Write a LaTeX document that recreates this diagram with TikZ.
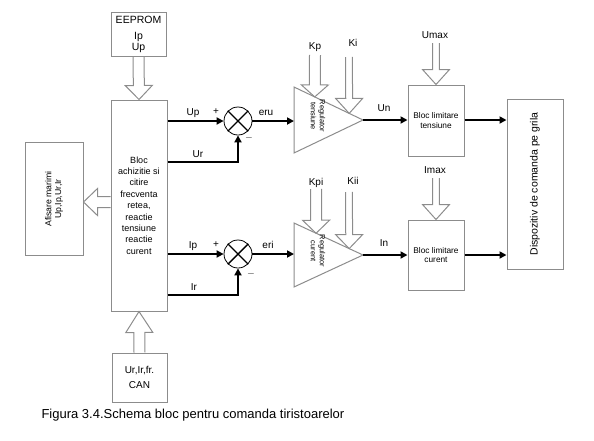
\documentclass[tikz,border=0pt]{standalone}
\usepackage{fontspec}
\setmainfont{Liberation Sans}
\usetikzlibrary{arrows.meta,calc}

% hollow block arrow: #1 half shaft width, #2 head length, from #3 to tip #4
\newcommand{\bigarrow}[4]{%
	\coordinate (ba) at (#3);
	\coordinate (bt) at (#4);
	\coordinate (bb) at ($(bt)!#2!(ba)$);
	\draw [hollow] ($(ba)!#1!90:(bb)$) -- ($(bb)!#1!-90:(ba)$) -- ($(bb)!13.5pt!-90:(ba)$) -- (bt)
		-- ($(bb)!13.5pt!90:(ba)$) -- ($(bb)!#1!90:(ba)$) -- ($(ba)!#1!-90:(bb)$);
}

\begin{document}
\begin{tikzpicture}[x=1pt, y=-1pt,
		box/.style={draw=black!45, line width=1pt, inner sep=1pt, align=center},
		hollow/.style={draw=black!45, line width=1pt},
		sig/.style={line width=2pt, -{Triangle[length=7pt,width=7pt]}},
		lbl/.style={font=\fontsize{10}{12}\selectfont}]
	\useasboundingbox (0,0) rectangle (594,440);

	% blocks
	\node [box, minimum width=55, minimum height=44, font=\fontsize{10.5}{11}\selectfont] (eeprom) at (138.5,34) {EEPROM\\[5pt]Ip\\Up};
	\node [box, minimum width=56, minimum height=211, font=\fontsize{9}{11.4}\selectfont] (acq) at (139,205.5)
		{Bloc\\achizitie si\\citire\\frecventa\\retea,\\reactie\\tensiune\\reactie\\curent};
	\node [box, minimum width=113, minimum height=58, rotate=90, font=\fontsize{8.7}{9.7}\selectfont] (disp) at (54,199)
		{Afisare marimi\\Up,Ip,Ur,Ir};
	\node [box, minimum width=55, minimum height=49, font=\fontsize{10}{15}\selectfont] (can) at (139.5,377.5) {Ur,Ir,fr.\\CAN};
	\node [box, minimum width=56, minimum height=71, font=\fontsize{8.3}{9.5}\selectfont] (lim1) at (436,120.5) {Bloc limitare\\tensiune};
	\node [box, minimum width=56, minimum height=70, font=\fontsize{8.3}{9.5}\selectfont] (lim2) at (436,255) {Bloc limitare\\curent};
	\node [box, minimum width=170, minimum height=56, rotate=90, font=\fontsize{10.5}{12}\selectfont] (cmd) at (535,184)
		{Dispozitiv de comanda pe grila};

	% regulators
	\coordinate (ta) at (294,87);
	\coordinate (tb) at (294,153);
	\coordinate (tc) at (363,120);
	\draw [hollow] (ta) -- (tc) -- (tb) -- cycle;
	\node [rotate=-90, align=center, font=\fontsize{7.4}{9}\selectfont] (regu) at (318,116) {Regulator\\tensiune};
	\coordinate (tia) at (294,223);
	\coordinate (tib) at (294,287);
	\coordinate (tic) at (363,255);
	\draw [hollow] (tia) -- (tic) -- (tib) -- cycle;
	\node [rotate=-90, align=center, font=\fontsize{7.4}{9}\selectfont] (regi) at (318,251) {Regulator\\curent};

	% summing points
	\node [draw, circle, minimum size=28, inner sep=0pt, line width=0.8pt] (sum1) at (238,121) {};
	\node [draw, circle, minimum size=28, inner sep=0pt, line width=0.8pt] (sum2) at (238,254) {};
	\draw [line width=1.4pt] (sum1.north west) -- (sum1.south east) (sum1.north east) -- (sum1.south west);
	\draw [line width=1.4pt] (sum2.north west) -- (sum2.south east) (sum2.north east) -- (sum2.south west);

	% hollow arrows
	\bigarrow{5.5pt}{14pt}{eeprom.south}{acq.north}
	\bigarrow{5.5pt}{21pt}{can.north}{acq.south}
	\coordinate (dispin) at ($(disp.south)+(0,3)$);
	\bigarrow{5.5pt}{14pt}{acq.west |- dispin}{dispin}
	\coordinate (kp) at (315,55);
	\coordinate (ki) at (349,57);
	\coordinate (kpi) at (316,189);
	\coordinate (kii) at (349,192);
	\coordinate (umax) at (436,43);
	\coordinate (imax) at (436,178);
	\bigarrow{5.5pt}{12pt}{kp}{$(ta)!0.3!(tc)$}
	\bigarrow{3.4pt}{15pt}{ki}{$(ta)!0.8!(tc)$}
	\bigarrow{5.5pt}{13pt}{kpi}{$(tia)!0.32!(tic)$}
	\bigarrow{3.4pt}{14pt}{kii}{$(tia)!0.8!(tic)$}
	\bigarrow{3.4pt}{15pt}{umax}{lim1.north}
	\bigarrow{3.4pt}{15pt}{imax}{lim2.north}
	\node [lbl] (kpl) at (315,47) {Kp};
	\node [lbl] (kil) at (353,43) {Ki};
	\node [lbl] (kpil) at (316,183) {Kpi};
	\node [lbl] (kiil) at (353,181) {Kii};
	\node [lbl] (umaxl) at (435,35) {Umax};
	\node [lbl] (imaxl) at (435,170) {Imax};

	% signal paths
	\coordinate (up) at (acq.east |- sum1);
	\coordinate (ur) at ($(acq.east) + (0,-43.5)$);
	\coordinate (ip) at (acq.east |- sum2);
	\coordinate (ir) at ($(acq.east) + (0,89.5)$);
	\draw [sig] (up) -- (sum1.west);
	\draw [sig] (ur) -| (sum1.south);
	\draw [sig] (sum1.east) -- (tb |- sum1);
	\draw [sig] (tc) -- (lim1.west |- tc);
	\draw [sig] (lim1.east |- tc) -- (cmd.north |- tc);
	\draw [sig] (ip) -- (sum2.west);
	\draw [sig] (ir) -| (sum2.south);
	\draw [sig] (sum2.east) -- (tib |- sum2);
	\draw [sig] (tic) -- (lim2.west |- tic);
	\draw [sig] (lim2.east |- tic) -- (cmd.north |- tic);

	\node [lbl] (upl) at (193,113) {Up};
	\node [lbl] (url) at (198,154) {Ur};
	\node [lbl] (ipl) at (193,246) {Ip};
	\node [lbl] (irl) at (194,287) {Ir};
	\node [lbl] (p1) at (216,112) {+};
	\node [lbl] (p2) at (216,245) {+};
	\node [lbl] (m1) at (249,138) {$-$};
	\node [lbl] (m2) at (251,274) {$-$};
	\node [lbl] (eru) at (266,113) {eru};
	\node [lbl] (eri) at (268,245) {eri};
	\node [lbl] (un) at (384,108) {Un};
	\node [lbl] (in) at (384,243) {In};

	\node [anchor=west, font=\fontsize{13}{15}\selectfont] (cap) at (38,415) {Figura 3.4.Schema bloc pentru comanda tiristoarelor};
\end{tikzpicture}
\end{document}
